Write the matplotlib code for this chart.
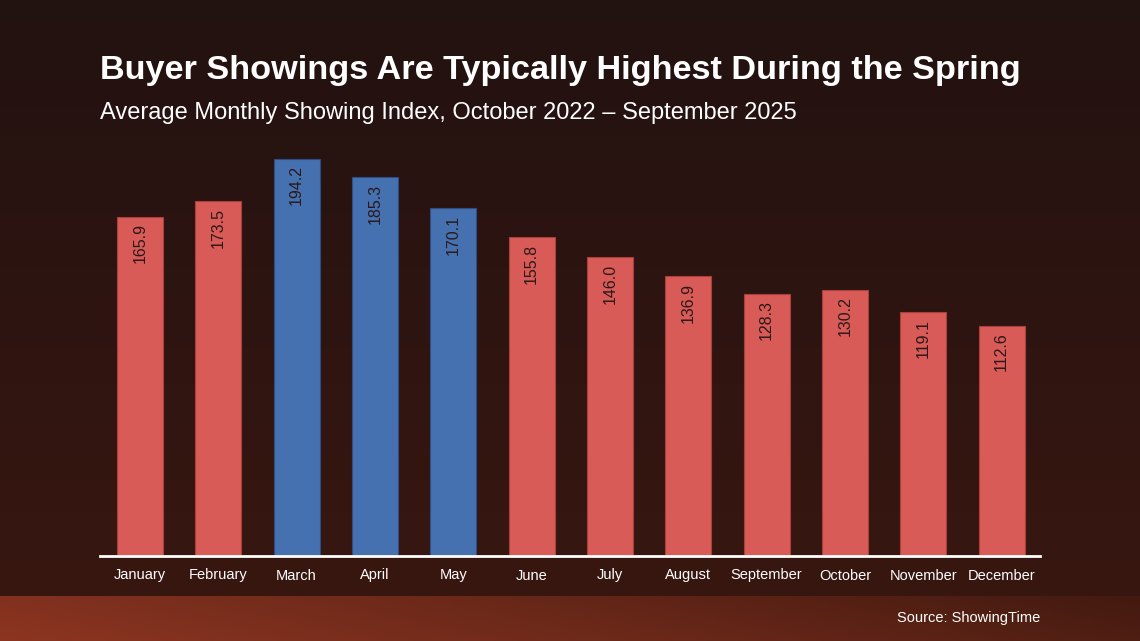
import numpy as np
import matplotlib
matplotlib.use("Agg")
import matplotlib.pyplot as plt
from matplotlib.colors import LinearSegmentedColormap

months = ["January", "February", "March", "April", "May", "June",
          "July", "August", "September", "October", "November", "December"]
showing_index = [165.9, 173.5, 194.2, 185.3, 170.1, 155.8,
                 146.0, 136.9, 128.3, 130.2, 119.1, 112.6]
spring_months = ["March", "April", "May"]

plt.rcParams["font.family"] = ["Liberation Sans", "DejaVu Sans"]

fig = plt.figure(figsize=(11.4, 6.41), dpi=100)

# background gradient (top darker, bottom a bit redder)
bg = fig.add_axes([0, 0, 1, 1])
bg_cmap = LinearSegmentedColormap.from_list("bg", ["#221211", "#3a1710"])
grad = np.linspace(0, 1, 256).reshape(-1, 1)
bg.imshow(grad, aspect="auto", cmap=bg_cmap, extent=[0, 1, 0, 1])
bg.axis("off")

# footer strip
strip_h = 45 / 641
ft = fig.add_axes([0, 0, 1, strip_h])
ft_cmap = LinearSegmentedColormap.from_list("ft", ["#8c3521", "#6a2819", "#431a10"])
xx, yy = np.meshgrid(np.linspace(0, 1, 400), np.linspace(0, 1, 20))
ft.imshow(xx * 0.85 + (1 - yy) * 0.15, aspect="auto", cmap=ft_cmap,
          extent=[0, 1, 0, 1], origin="upper")
ft.axis("off")
fig.text(1040 / 1140, 1 - 618 / 641, "Source: ShowingTime", color="white",
         fontsize=10.5, ha="right", va="center")

# chart
ax = fig.add_axes([100 / 1140, 85 / 641, 940 / 1140, 409 / 641])
ax.set_facecolor("none")
colors = ["#4571b1" if m in spring_months else "#d95b57" for m in months]
edges = ["#2f4d80" if m in spring_months else "#a9403c" for m in months]
x = np.arange(len(months))
bars = ax.bar(x, showing_index, width=0.59, color=colors, edgecolor=edges, linewidth=0.8)
for b, v in zip(bars, showing_index):
    ax.text(b.get_x() + b.get_width() / 2, v - 3.2, f"{v:.1f}", rotation=90,
            ha="center", va="top", fontsize=11.5, color="#2a1818")

ax.set_xlim(-0.51, 11.49)
ax.set_ylim(0, 200)
ax.set_xticks(x)
ax.set_xticklabels(months, color="white", fontsize=10.5)
ax.tick_params(axis="x", length=0, pad=9)
ax.set_yticks([])
for side in ["top", "right", "left"]:
    ax.spines[side].set_visible(False)
ax.spines["bottom"].set_color("white")
ax.spines["bottom"].set_linewidth(2)

fig.text(100 / 1140, 1 - 70 / 641, "Buyer Showings Are Typically Highest During the Spring",
         color="white", fontsize=24.7, fontweight="bold", va="center")
fig.text(100 / 1140, 1 - 113 / 641, "Average Monthly Showing Index, October 2022 \u2013 September 2025",
         color="white", fontsize=17, va="center")

fig.savefig("out.png", dpi=100)
